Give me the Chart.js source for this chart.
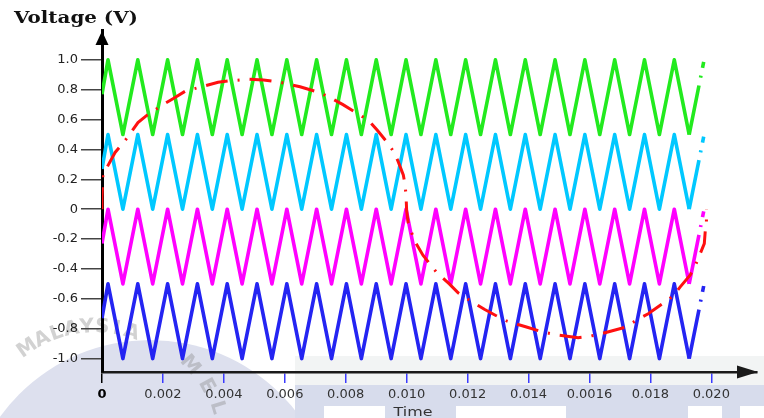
<!DOCTYPE html>
<html>
<head>
<meta charset="utf-8">
<script src="https://cdn.jsdelivr.net/npm/chart.js@4.4.1/dist/chart.umd.min.js"></script>
<style>
  html, body { margin: 0; padding: 0; background: #fff; }
  #wrap { width: 764px; height: 418px; }
</style>
</head>
<body>
<div id="wrap"><canvas id="chart" width="764" height="418"></canvas></div>
<script>
// tick marks and their printed labels (the figure prints 0.0016 for 0.016)
const xTickValues = [0, 0.002, 0.004, 0.006, 0.008, 0.010, 0.012, 0.014, 0.016, 0.018, 0.020];
const xTickLabels = ['0', '0.002', '0.004', '0.006', '0.008', '0.010', '0.012', '0.014', '0.0016', '0.018', '0.020'];
const yTickValues = [-1.0, -0.8, -0.6, -0.4, -0.2, 0, 0.2, 0.4, 0.6, 0.8, 1.0];
const yTickLabels = ['-1.0', '-0.8', '-0.6', '-0.4', '-0.2', '0', '0.2', '0.4', '0.6', '0.8', '1.0'];

// carrier vertices (s), shared by all four triangle carriers
const carrierTime = [0,
  0.000197, 0.000686, 0.001175, 0.001664, 0.002154, 0.002643, 0.003132, 0.003621,
  0.004110, 0.004599, 0.005089, 0.005578, 0.006067, 0.006556, 0.007045, 0.007534,
  0.008024, 0.008513, 0.009002, 0.009491, 0.009980, 0.010469, 0.010959, 0.011448,
  0.011937, 0.012426, 0.012915, 0.013404, 0.013894, 0.014383, 0.014872, 0.015361,
  0.015850, 0.016339, 0.016829, 0.017318, 0.017807, 0.018296, 0.018785, 0.019274,
  0.019764];
const greenV = [0.77,
  1, 0.5, 1, 0.5, 1, 0.5, 1, 0.5, 1, 0.5, 1, 0.5, 1, 0.5, 1, 0.5, 1, 0.5, 1, 0.5,
  1, 0.5, 1, 0.5, 1, 0.5, 1, 0.5, 1, 0.5, 1, 0.5, 1, 0.5, 1, 0.5, 1, 0.5, 1, 0.5,
  1];
const cyanV = [0.27,
  0.5, 0, 0.5, 0, 0.5, 0, 0.5, 0, 0.5, 0, 0.5, 0, 0.5, 0, 0.5, 0, 0.5, 0, 0.5, 0,
  0.5, 0, 0.5, 0, 0.5, 0, 0.5, 0, 0.5, 0, 0.5, 0, 0.5, 0, 0.5, 0, 0.5, 0, 0.5, 0,
  0.5];
const magentaV = [-0.23,
  0, -0.5, 0, -0.5, 0, -0.5, 0, -0.5, 0, -0.5, 0, -0.5, 0, -0.5, 0, -0.5, 0, -0.5, 0, -0.5,
  0, -0.5, 0, -0.5, 0, -0.5, 0, -0.5, 0, -0.5, 0, -0.5, 0, -0.5, 0, -0.5, 0, -0.5, 0, -0.5,
  0];
const blueV = [-0.73,
  -0.5, -1, -0.5, -1, -0.5, -1, -0.5, -1, -0.5, -1, -0.5, -1, -0.5, -1, -0.5, -1, -0.5, -1, -0.5, -1,
  -0.5, -1, -0.5, -1, -0.5, -1, -0.5, -1, -0.5, -1, -0.5, -1, -0.5, -1, -0.5, -1, -0.5, -1, -0.5, -1,
  -0.5];

// red reference (modulating) wave
const refTime = [0, 0, 0.00003, 0.00043, 0.00076, 0.00118, 0.00148, 0.00200, 0.00233, 0.00273,
  0.00345, 0.00381, 0.00420, 0.00480, 0.00530, 0.00585, 0.00650, 0.00716, 0.00755, 0.00791,
  0.00847, 0.00877, 0.00903, 0.00939, 0.00959, 0.00972, 0.00989, 0.00995, 0.00998, 0.01000,
  0.01005, 0.01015, 0.01028, 0.01054, 0.01074, 0.01097, 0.01140, 0.01169, 0.01199, 0.01255,
  0.01291, 0.01330, 0.01396, 0.01442, 0.01488, 0.01563, 0.01603, 0.01645, 0.01718, 0.01757,
  0.01793, 0.01842, 0.01875, 0.01898, 0.01931, 0.01947, 0.01961, 0.01977, 0.01980, 0.01984,
  0.01984];
const refVolt = [0, 0.08, 0.23, 0.38, 0.46, 0.58, 0.63, 0.70, 0.74, 0.79,
  0.83, 0.85, 0.86, 0.87, 0.865, 0.85, 0.82, 0.78, 0.74, 0.70,
  0.63, 0.59, 0.53, 0.44, 0.38, 0.32, 0.23, 0.16, 0.09, -0.01,
  -0.09, -0.15, -0.22, -0.31, -0.36, -0.42, -0.50, -0.56, -0.60, -0.67,
  -0.71, -0.75, -0.79, -0.82, -0.84, -0.86, -0.85, -0.83, -0.79, -0.74,
  -0.70, -0.63, -0.58, -0.52, -0.44, -0.38, -0.31, -0.23, -0.15, -0.09,
  0.00];

const toPoints = (xs, ys) => xs.map((x, i) => ({ x, y: ys[i] }));
const lastIdx = carrierTime.length - 1;

function carrier(label, values, color) {
  return {
    label,
    data: toPoints(carrierTime, values),
    borderColor: color,
    borderWidth: 3.6,
    borderJoinStyle: 'round',
    pointRadius: 0,
    tension: 0,
    segment: {
      // last rise of each carrier breaks up into dots in the figure
      borderDash: c => (c.p1DataIndex === lastIdx ? [50, 8, 2, 8, 6, 40] : undefined)
    }
  };
}

function stretchText(ctx, text, x, y, width, font, color, center) {
  ctx.save();
  ctx.font = font;
  const w = ctx.measureText(text).width;
  ctx.translate(center ? x - width / 2 : x, y);
  ctx.scale(width / w, 1);
  ctx.fillStyle = color;
  ctx.textBaseline = 'alphabetic';
  ctx.textAlign = 'left';
  ctx.fillText(text, 0, 0);
  ctx.restore();
}

// faint university watermark behind the plot
const watermark = {
  id: 'watermark',
  beforeDraw(chart) {
    const ctx = chart.ctx;
    ctx.save();
    ctx.fillStyle = '#dde0ee';
    ctx.beginPath();
    ctx.arc(150, 525, 185, 0, Math.PI * 2);
    ctx.fill();
    ctx.fillStyle = '#f2f4f4';
    ctx.fillRect(295, 356, 469, 29);
    ctx.fillStyle = '#d7dcec';
    ctx.fillRect(295, 385, 469, 33);
    ctx.fillStyle = '#ffffff';
    ctx.fillRect(324, 406, 61, 12);
    ctx.fillRect(456, 406, 110, 12);
    ctx.fillRect(688, 406, 34, 12);
    ctx.fillRect(740, 406, 24, 12);

    const letters = [['M', -125, 118], ['A', -116.5, 118], ['L', -109, 118], ['A', -101.5, 118],
      ['Y', -94, 118], ['S', -86.5, 118], ['I', -79.5, 118], ['A', -72, 118],
      ['M', -40, 124], ['E', -28, 126], ['L', -17, 128], ['A', -7, 130]];
    ctx.font = 'bold 20px "DejaVu Sans"';
    ctx.fillStyle = 'rgba(130,130,130,0.36)';
    ctx.textAlign = 'center';
    ctx.textBaseline = 'middle';
    letters.forEach(([ch, deg, r]) => {
      const a = deg * Math.PI / 180;
      ctx.save();
      ctx.translate(95 + r * Math.cos(a), 445 + r * Math.sin(a));
      ctx.rotate(a + Math.PI / 2);
      ctx.fillText(ch, 0, 0);
      ctx.restore();
    });
    ctx.restore();
  }
};

// axis arrowheads and the two axis captions
const axisDecor = {
  id: 'axisDecor',
  afterDraw(chart) {
    const ctx = chart.ctx;
    const a = chart.chartArea;
    ctx.save();
    ctx.fillStyle = '#000';
    ctx.beginPath();
    ctx.moveTo(a.left, 31);
    ctx.lineTo(a.left - 6.5, 45);
    ctx.lineTo(a.left + 6.5, 45);
    ctx.closePath();
    ctx.fill();
    ctx.fillStyle = '#1a1a1a';
    ctx.beginPath();
    ctx.moveTo(758, a.bottom);
    ctx.lineTo(737, a.bottom - 6.5);
    ctx.lineTo(737, a.bottom + 6.5);
    ctx.closePath();
    ctx.fill();
    ctx.restore();
    stretchText(ctx, 'Voltage (V)', 14, 23, 124, 'bold 17px "DejaVu Serif"', '#111', false);
    stretchText(ctx, 'Time', 413, 416, 39, '12.5px "DejaVu Sans"', '#333', true);
  }
};

new Chart(document.getElementById('chart'), {
  type: 'line',
  data: {
    datasets: [
      {
        label: 'Reference',
        data: toPoints(refTime, refVolt),
        borderColor: '#ff1010',
        borderWidth: 3,
        borderDash: [22, 10, 2, 10],
        pointRadius: 0,
        tension: 0
      },
      carrier('Carrier 1', greenV, '#22ea1e'),
      carrier('Carrier 2', cyanV, '#00c8ff'),
      carrier('Carrier 3', magentaV, '#ff00ff'),
      carrier('Carrier 4', blueV, '#2424f2')
    ]
  },
  options: {
    responsive: false,
    animation: false,
    layout: { padding: { top: 30, right: 7, bottom: 0, left: 0 } },
    plugins: { legend: { display: false }, tooltip: { enabled: false } },
    scales: {
      x: {
        type: 'linear',
        min: 0,
        max: 0.0215,
        afterBuildTicks: s => { s.ticks = xTickValues.map(v => ({ value: v })); },
        afterFit: s => { s.height = 46; },
        grid: {
          drawOnChartArea: false,
          tickLength: 11,
          lineWidth: 1.5,
          color: c => (c.index === 0 ? '#000' : '#3b3bff')
        },
        border: { color: '#1a1a1a', width: 2.5 },
        ticks: {
          autoSkip: false,
          maxRotation: 0,
          padding: 4,
          callback: (v, i) => xTickLabels[i],
          color: c => (c.index === 0 ? '#000' : '#333'),
          font: c => ({ family: 'DejaVu Sans', size: 13, weight: c.index === 0 ? 'bold' : 'normal' })
        }
      },
      y: {
        type: 'linear',
        min: -1.09,
        max: 1.2,
        afterBuildTicks: s => { s.ticks = yTickValues.map(v => ({ value: v })); },
        afterFit: s => { s.width = 102; },
        grid: { drawOnChartArea: false, tickLength: 21, lineWidth: 1.5, color: '#444' },
        border: { color: '#000', width: 3 },
        ticks: {
          padding: 3,
          callback: (v, i) => yTickLabels[i],
          color: '#222',
          font: { family: 'DejaVu Sans', size: 13 }
        }
      }
    }
  },
  plugins: [watermark, axisDecor]
});
</script>
</body>
</html>
